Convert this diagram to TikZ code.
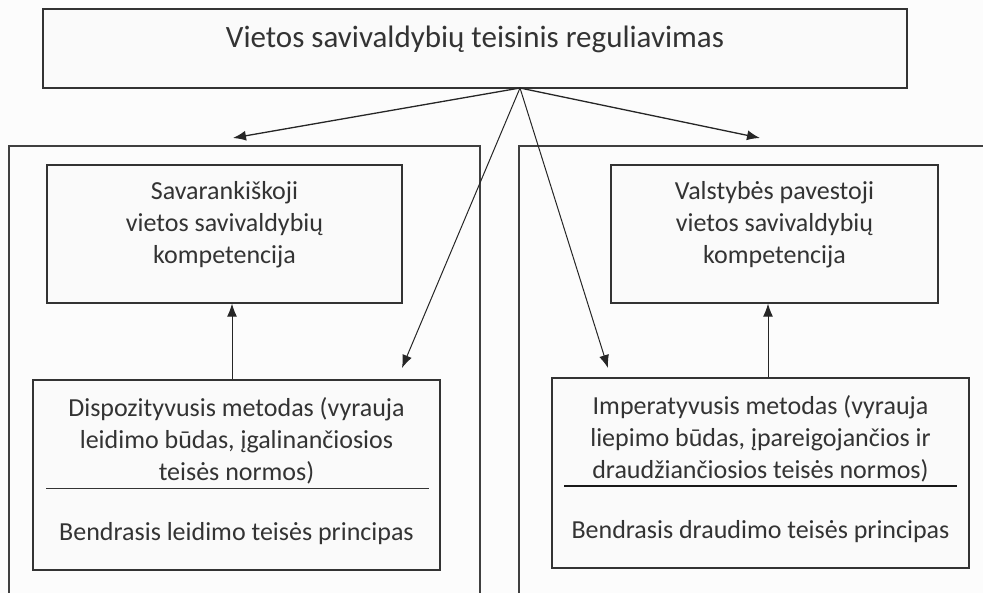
\documentclass[tikz,border=0pt]{standalone}
\usepackage{fontspec}
\setmainfont{Carlito}
\usetikzlibrary{arrows.meta,calc}

\begin{document}
\begin{tikzpicture}[
    x=1pt, y=-1pt,
    bx/.style={rectangle, draw=black!80, line width=1.3pt, fill=black!2, inner sep=0pt},
    tx/.style={inner sep=0pt, align=center, text=black!80,
               font=\fontsize{26}{32}\selectfont},
    ar/.style={-{Latex[length=13pt,width=10pt]}, draw=black!85, line width=1.3pt},
    fr/.style={draw=black!75, line width=1.3pt}
]
\useasboundingbox[fill=black!1] (0,0) rectangle (983,593);

\draw[fr] (9,593) -- (9,146) -- (480,146) -- (480,593);
\draw[fr] (519,593) -- (519,146) -- (983,146);

\node[bx, minimum width=864pt, minimum height=79pt] (top) at (475,48.5) {};
\node[tx, font=\fontsize{31}{37}\selectfont, anchor=north] (topt) at ([yshift=-17pt]top.north)
    {Vietos savivaldybių teisinis reguliavimas};

\node[bx, minimum width=355pt, minimum height=138pt] (selfL) at (224.5,234) {};
\node[tx, anchor=north] (selfLt) at ([yshift=-17pt]selfL.north)
    {Savarankiškoji\\vietos savivaldybių\\kompetencija};
\node[bx, minimum width=327pt, minimum height=138pt] (selfR) at (774.5,234) {};
\node[tx, anchor=north] (selfRt) at ([yshift=-17pt]selfR.north)
    {Valstybės pavestoji\\vietos savivaldybių\\kompetencija};

\node[bx, minimum width=407pt, minimum height=190pt] (dispL) at (236.5,475) {};
\node[tx, anchor=north] (dispLt) at ([yshift=-18pt]dispL.north)
    {Dispozityvusis metodas (vyrauja\\leidimo būdas, įgalinančiosios\\teisės normos)};
\node[tx, anchor=base] (dispLp) at ([yshift=30pt]dispL.south)
    {Bendrasis leidimo teisės principas};
\draw[draw=black!80, line width=1pt] ([xshift=14pt,yshift=-13pt]dispL.center -| dispL.west)
    -- ([xshift=-12pt,yshift=-13pt]dispL.center -| dispL.east);

\node[bx, minimum width=417pt, minimum height=190pt] (dispR) at (760.5,473) {};
\node[tx, anchor=north] (dispRt) at ([yshift=-18pt]dispR.north)
    {Imperatyvusis metodas (vyrauja\\liepimo būdas, įpareigojančios ir\\draudžiančiosios teisės normos)};
\node[tx, anchor=base] (dispRp) at ([yshift=30pt]dispR.south)
    {Bendrasis draudimo teisės principas};
\draw[draw=black!90, line width=2pt] ([xshift=13pt,yshift=-13pt]dispR.center -| dispR.west)
    -- ([xshift=-13pt,yshift=-13pt]dispR.center -| dispR.east);

\coordinate (apex) at (520,88);
\coordinate (tipL) at (233,138);
\coordinate (tipR) at (760,138);
\coordinate (tipDL) at (402,368);
\coordinate (tipDR) at (608,368);

\draw[ar] (apex) -- (tipL);
\draw[ar] (apex) -- (tipR);
\draw[ar, line width=1pt] (apex) -- (tipDL);
\draw[ar, line width=1pt] (apex) -- (tipDR);

\draw[ar, line width=1pt] ([xshift=-4.5pt]dispL.north) -- ([xshift=-4.5pt]dispL.north |- selfL.south);
\draw[ar, line width=1pt] ([xshift=7.5pt]dispR.north) -- ([xshift=7.5pt]dispR.north |- selfR.south);
\end{tikzpicture}
\end{document}
